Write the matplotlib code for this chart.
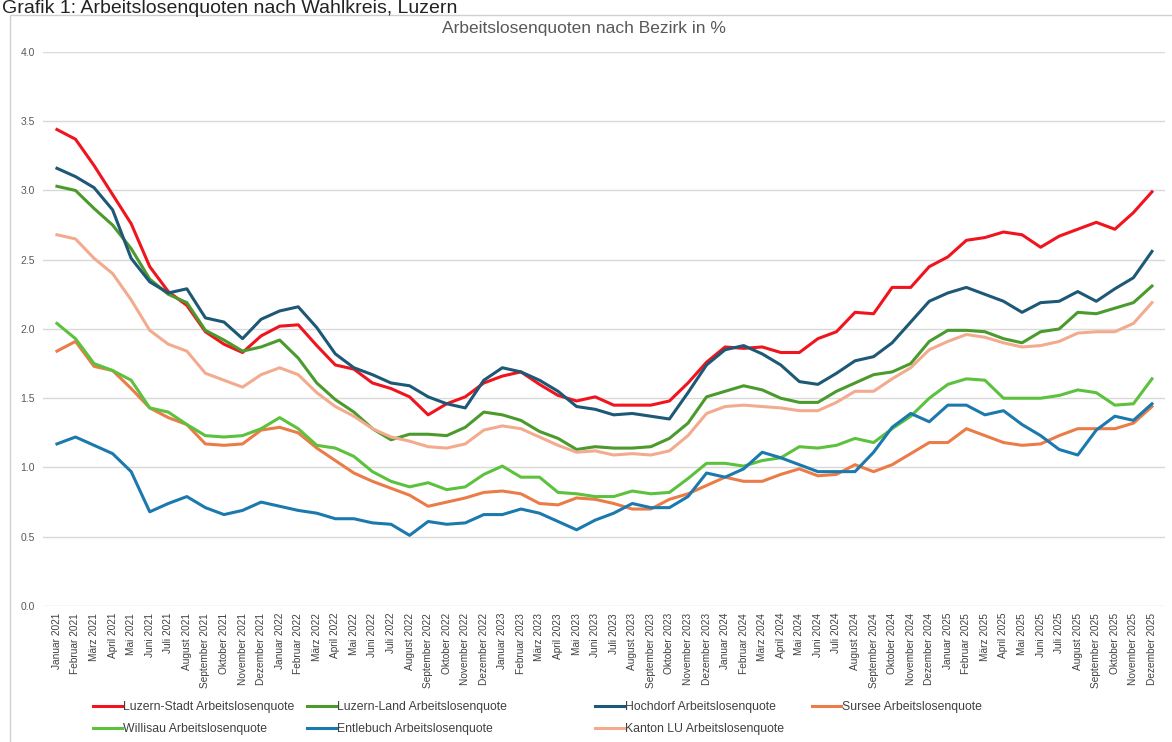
import matplotlib
matplotlib.use("Agg")
import matplotlib.pyplot as plt
from matplotlib.patches import Rectangle

# Monate Jan 2021 - Dez 2025
monate = ["Januar", "Februar", "März", "April", "Mai", "Juni", "Juli",
          "August", "September", "Oktober", "November", "Dezember"]
jahre = [2021, 2022, 2023, 2024, 2025]
labels = [f"{m} {j}" for j in jahre for m in monate]

luzern_stadt = [3.44, 3.37, 3.18, 2.97, 2.76, 2.45, 2.27, 2.17, 1.98, 1.89, 1.83, 1.95,
                2.02, 2.03, 1.88, 1.74, 1.71, 1.61, 1.57, 1.51, 1.38, 1.46, 1.51, 1.61,
                1.66, 1.69, 1.60, 1.52, 1.48, 1.51, 1.45, 1.45, 1.45, 1.48, 1.61, 1.76,
                1.87, 1.86, 1.87, 1.83, 1.83, 1.93, 1.98, 2.12, 2.11, 2.30, 2.30, 2.45,
                2.52, 2.64, 2.66, 2.70, 2.68, 2.59, 2.67, 2.72, 2.77, 2.72, 2.84, 2.99]
luzern_land = [3.03, 3.00, 2.87, 2.75, 2.58, 2.36, 2.25, 2.19, 1.99, 1.92, 1.84, 1.87,
               1.92, 1.79, 1.61, 1.49, 1.40, 1.28, 1.20, 1.24, 1.24, 1.23, 1.29, 1.40,
               1.38, 1.34, 1.26, 1.21, 1.13, 1.15, 1.14, 1.14, 1.15, 1.21, 1.32, 1.51,
               1.55, 1.59, 1.56, 1.50, 1.47, 1.47, 1.55, 1.61, 1.67, 1.69, 1.75, 1.91,
               1.99, 1.99, 1.98, 1.93, 1.90, 1.98, 2.00, 2.12, 2.11, 2.15, 2.19, 2.31]
hochdorf = [3.16, 3.10, 3.02, 2.86, 2.51, 2.34, 2.26, 2.29, 2.08, 2.05, 1.93, 2.07,
            2.13, 2.16, 2.01, 1.82, 1.72, 1.67, 1.61, 1.59, 1.51, 1.46, 1.43, 1.63,
            1.72, 1.69, 1.63, 1.55, 1.44, 1.42, 1.38, 1.39, 1.37, 1.35, 1.54, 1.74,
            1.85, 1.88, 1.82, 1.74, 1.62, 1.60, 1.68, 1.77, 1.80, 1.90, 2.05, 2.20,
            2.26, 2.30, 2.25, 2.20, 2.12, 2.19, 2.20, 2.27, 2.20, 2.29, 2.37, 2.56]
sursee = [1.84, 1.91, 1.73, 1.70, 1.57, 1.43, 1.36, 1.31, 1.17, 1.16, 1.17, 1.27,
          1.29, 1.25, 1.14, 1.05, 0.96, 0.90, 0.85, 0.80, 0.72, 0.75, 0.78, 0.82,
          0.83, 0.81, 0.74, 0.73, 0.78, 0.77, 0.74, 0.70, 0.70, 0.77, 0.81, 0.87,
          0.93, 0.90, 0.90, 0.95, 0.99, 0.94, 0.95, 1.02, 0.97, 1.02, 1.10, 1.18,
          1.18, 1.28, 1.23, 1.18, 1.16, 1.17, 1.23, 1.28, 1.28, 1.28, 1.32, 1.44]
willisau = [2.04, 1.93, 1.75, 1.70, 1.63, 1.43, 1.40, 1.31, 1.23, 1.22, 1.23, 1.28,
            1.36, 1.28, 1.16, 1.14, 1.08, 0.97, 0.90, 0.86, 0.89, 0.84, 0.86, 0.95,
            1.01, 0.93, 0.93, 0.82, 0.81, 0.79, 0.79, 0.83, 0.81, 0.82, 0.92, 1.03,
            1.03, 1.01, 1.05, 1.07, 1.15, 1.14, 1.16, 1.21, 1.18, 1.28, 1.37, 1.50,
            1.60, 1.64, 1.63, 1.50, 1.50, 1.50, 1.52, 1.56, 1.54, 1.45, 1.46, 1.64]
entlebuch = [1.17, 1.22, 1.16, 1.10, 0.97, 0.68, 0.74, 0.79, 0.71, 0.66, 0.69, 0.75,
             0.72, 0.69, 0.67, 0.63, 0.63, 0.60, 0.59, 0.51, 0.61, 0.59, 0.60, 0.66,
             0.66, 0.70, 0.67, 0.61, 0.55, 0.62, 0.67, 0.74, 0.71, 0.71, 0.79, 0.96,
             0.93, 0.99, 1.11, 1.07, 1.02, 0.97, 0.97, 0.97, 1.11, 1.29, 1.39, 1.33,
             1.45, 1.45, 1.38, 1.41, 1.31, 1.23, 1.13, 1.09, 1.27, 1.37, 1.34, 1.46]
kanton_lu = [2.68, 2.65, 2.51, 2.40, 2.21, 1.99, 1.89, 1.84, 1.68, 1.63, 1.58, 1.67,
             1.72, 1.67, 1.54, 1.44, 1.37, 1.28, 1.22, 1.19, 1.15, 1.14, 1.17, 1.27,
             1.30, 1.28, 1.22, 1.16, 1.11, 1.12, 1.09, 1.10, 1.09, 1.12, 1.23, 1.39,
             1.44, 1.45, 1.44, 1.43, 1.41, 1.41, 1.47, 1.55, 1.55, 1.64, 1.72, 1.85,
             1.91, 1.96, 1.94, 1.90, 1.87, 1.88, 1.91, 1.97, 1.98, 1.98, 2.04, 2.19]

serien = [
    ("Luzern-Stadt Arbeitslosenquote", luzern_stadt, "#f0141e"),
    ("Luzern-Land Arbeitslosenquote", luzern_land, "#4b9a2d"),
    ("Hochdorf Arbeitslosenquote", hochdorf, "#1d5876"),
    ("Sursee Arbeitslosenquote", sursee, "#eb7c48"),
    ("Willisau Arbeitslosenquote", willisau, "#5cc23d"),
    ("Entlebuch Arbeitslosenquote", entlebuch, "#1b79ad"),
    ("Kanton LU Arbeitslosenquote", kanton_lu, "#f2ab8e"),
]

# Legendenplätze (Pixel, wie in Excel: 4 Spalten, 2 Zeilen)
leg_pos = [(93, 707), (307, 707), (595, 707), (812, 707),
           (93, 729), (307, 729), (595, 729)]

narrow = ["Liberation Sans Narrow", "Liberation Sans", "DejaVu Sans"]
grau = "#595959"
W, H = 1172, 742

fig = plt.figure(figsize=(W / 100, H / 100), dpi=100)
ax = fig.add_axes([0.0367, 0.1833, 0.9573, 0.7467])

# Rahmen um die Grafik
fig.patches.append(Rectangle((10 / W, -0.01), 1.0, 1 - 15 / H + 0.01, transform=fig.transFigure,
                             fill=False, edgecolor="#d0d0d0", linewidth=1))

fig.text(0.002, 1.0, "Grafik 1: Arbeitslosenquoten nach Wahlkreis, Luzern",
         fontsize=14, family=["Liberation Sans", "DejaVu Sans"], va="top",
         color="#222222")

x = list(range(len(labels)))
for name, werte, farbe in serien:
    ax.plot(x, werte, color=farbe, linewidth=2.2, label=name)

ax.set_ylim(0, 4.0)
ax.set_xlim(-0.75, 59.7)
ax.set_yticks([0, 0.5, 1.0, 1.5, 2.0, 2.5, 3.0, 3.5, 4.0])
ax.set_yticklabels([f"{v:.1f}" for v in ax.get_yticks()], fontsize=7.5,
                   color=grau, family=["Liberation Sans", "DejaVu Sans"])
ax.set_xticks(x)
ax.set_xticklabels(labels, rotation=90, fontsize=7.3, color="#404040", family=narrow)
ax.tick_params(axis="both", length=0)
ax.tick_params(axis="y", pad=6)
ax.tick_params(axis="x", pad=5)
ax.grid(axis="y", color="#d9d9d9", linewidth=1)
ax.set_axisbelow(True)
for s in ax.spines.values():
    s.set_visible(False)

fig.text(584 / W, 1 - 28 / H, "Arbeitslosenquoten nach Bezirk in %", ha="center",
         va="center", fontsize=12.5, color=grau, family=["Liberation Sans", "DejaVu Sans"])

lines = ax.get_lines()
for line, (px, py) in zip(lines, leg_pos):
    lg = fig.legend([line], [line.get_label()], loc="center left",
                    bbox_to_anchor=(px / W, 1 - py / H), frameon=False,
                    prop={"family": narrow, "size": 8.8}, handlelength=2.4,
                    handletextpad=0.05, borderpad=0, borderaxespad=0, labelcolor="#404040")

fig.savefig("out.png", dpi=100)
